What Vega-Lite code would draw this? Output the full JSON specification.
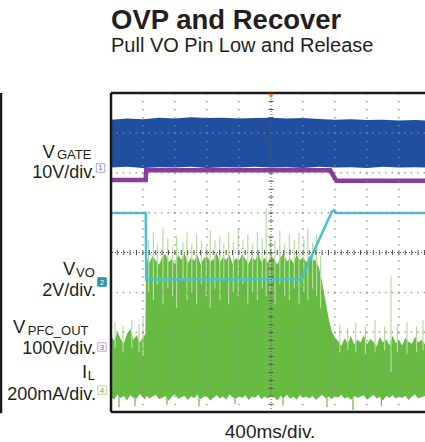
{
  "$schema": "https://vega.github.io/schema/vega-lite/v6.json",
  "width": 314,
  "height": 319,
  "autosize": {"type": "none"},
  "padding": {"left": 111, "top": 93, "right": 0, "bottom": 30},
  "background": "white",
  "config": {"view": {"stroke": null}, "font": "Liberation Sans"},
  "title": {
    "text": "OVP and Recover",
    "subtitle": "Pull VO Pin Low and Release",
    "anchor": "start",
    "frame": "group",
    "fontSize": 27.5,
    "fontWeight": "bold",
    "subtitleFontSize": 20,
    "subtitleFontWeight": "normal",
    "color": "#231f20",
    "subtitleColor": "#231f20",
    "font": "Liberation Sans",
    "subtitleFont": "Liberation Sans",
    "offset": 35,
    "subtitlePadding": 1
  },
  "datasets": {
    "il": [
      {"t":-2000,"lo":0.38,"hi":1.92},{"t":-1960,"lo":0.31,"hi":1.78},{"t":-1920,"lo":0.44,"hi":2.02},{"t":-1880,"lo":0.35,"hi":1.84},
      {"t":-1840,"lo":0.40,"hi":1.72},{"t":-1800,"lo":0.29,"hi":1.96},{"t":-1760,"lo":0.42,"hi":2.08},{"t":-1720,"lo":0.36,"hi":1.81},
      {"t":-1680,"lo":0.33,"hi":1.93},{"t":-1640,"lo":0.45,"hi":1.74},{"t":-1600,"lo":0.37,"hi":1.88},{"t":-1570,"lo":0.30,"hi":1.95},
      {"t":-1562,"lo":0.41,"hi":3.86},{"t":-1520,"lo":0.34,"hi":3.74},{"t":-1480,"lo":0.39,"hi":3.92},{"t":-1440,"lo":0.43,"hi":3.80},
      {"t":-1400,"lo":0.32,"hi":3.69},{"t":-1360,"lo":0.36,"hi":3.88},{"t":-1320,"lo":0.40,"hi":3.97},{"t":-1280,"lo":0.28,"hi":3.76},
      {"t":-1240,"lo":0.38,"hi":3.84},{"t":-1200,"lo":0.44,"hi":3.71},{"t":-1160,"lo":0.33,"hi":3.93},{"t":-1120,"lo":0.37,"hi":3.82},
      {"t":-1080,"lo":0.41,"hi":3.99},{"t":-1040,"lo":0.30,"hi":3.73},{"t":-1000,"lo":0.39,"hi":3.87},{"t":-960,"lo":0.35,"hi":3.79},
      {"t":-920,"lo":0.43,"hi":3.95},{"t":-880,"lo":0.32,"hi":3.70},{"t":-840,"lo":0.38,"hi":3.85},{"t":-800,"lo":0.40,"hi":3.91},
      {"t":-760,"lo":0.29,"hi":3.77},{"t":-720,"lo":0.36,"hi":3.83},{"t":-680,"lo":0.42,"hi":4.00},{"t":-640,"lo":0.34,"hi":3.75},
      {"t":-600,"lo":0.39,"hi":3.89},{"t":-560,"lo":0.31,"hi":3.81},{"t":-520,"lo":0.44,"hi":3.94},{"t":-480,"lo":0.37,"hi":3.72},
      {"t":-440,"lo":0.33,"hi":3.86},{"t":-400,"lo":0.40,"hi":3.78},{"t":-360,"lo":0.35,"hi":3.96},{"t":-320,"lo":0.42,"hi":3.84},
      {"t":-280,"lo":0.30,"hi":3.71},{"t":-240,"lo":0.38,"hi":3.90},{"t":-200,"lo":0.36,"hi":3.80},{"t":-160,"lo":0.43,"hi":3.98},
      {"t":-120,"lo":0.32,"hi":3.76},{"t":-80,"lo":0.39,"hi":3.87},{"t":-40,"lo":0.34,"hi":3.74},{"t":0,"lo":0.41,"hi":3.92},
      {"t":40,"lo":0.37,"hi":3.83},{"t":80,"lo":0.29,"hi":3.70},{"t":120,"lo":0.40,"hi":3.89},{"t":160,"lo":0.35,"hi":3.97},
      {"t":200,"lo":0.43,"hi":3.78},{"t":240,"lo":0.33,"hi":3.85},{"t":280,"lo":0.38,"hi":3.73},{"t":320,"lo":0.31,"hi":3.94},
      {"t":360,"lo":0.42,"hi":3.81},{"t":400,"lo":0.36,"hi":3.88},{"t":440,"lo":0.39,"hi":3.76},{"t":480,"lo":0.34,"hi":3.91},
      {"t":520,"lo":0.41,"hi":3.83},{"t":560,"lo":0.30,"hi":3.79},{"t":600,"lo":0.37,"hi":3.62},{"t":640,"lo":0.43,"hi":3.25},
      {"t":680,"lo":0.35,"hi":2.80},{"t":720,"lo":0.39,"hi":2.35},{"t":760,"lo":0.32,"hi":2.02},{"t":800,"lo":0.40,"hi":1.86},
      {"t":840,"lo":0.36,"hi":1.78},{"t":880,"lo":0.44,"hi":1.66},{"t":920,"lo":0.33,"hi":1.85},{"t":960,"lo":0.38,"hi":1.72},
      {"t":1000,"lo":0.30,"hi":1.90},{"t":1040,"lo":0.41,"hi":1.69},{"t":1080,"lo":0.35,"hi":1.81},{"t":1120,"lo":0.39,"hi":1.74},
      {"t":1160,"lo":0.42,"hi":1.93},{"t":1200,"lo":0.31,"hi":1.70},{"t":1240,"lo":0.37,"hi":1.83},{"t":1280,"lo":0.43,"hi":1.77},
      {"t":1320,"lo":0.34,"hi":1.64},{"t":1360,"lo":0.38,"hi":1.88},{"t":1400,"lo":0.29,"hi":1.75},{"t":1440,"lo":0.40,"hi":1.82},
      {"t":1480,"lo":0.36,"hi":1.68},{"t":1520,"lo":0.42,"hi":1.91},{"t":1560,"lo":0.33,"hi":1.73},{"t":1600,"lo":0.39,"hi":1.80},
      {"t":1640,"lo":0.35,"hi":1.67},{"t":1680,"lo":0.41,"hi":1.86},{"t":1720,"lo":0.30,"hi":1.76},{"t":1760,"lo":0.38,"hi":1.71},
      {"t":1800,"lo":0.44,"hi":1.89},{"t":1840,"lo":0.34,"hi":1.74},{"t":1880,"lo":0.37,"hi":1.81},{"t":1925,"lo":0.40,"hi":1.70}
    ],
    "ilspk": [
      {"t":-1950,"a":1.6,"b":2.25},{"t":-1850,"a":1.5,"b":2.15},{"t":-1740,"a":1.6,"b":2.3},{"t":-1650,"a":1.5,"b":2.2},{"t":-1600,"a":1.4,"b":2.35},
      {"t":-1530,"a":3.0,"b":4.3},{"t":-1470,"a":2.8,"b":4.5},{"t":-1420,"a":3.2,"b":4.2},{"t":-1350,"a":2.7,"b":4.6},{"t":-1290,"a":3.1,"b":4.35},
      {"t":-1230,"a":2.9,"b":4.15},{"t":-1180,"a":2.6,"b":4.4},{"t":-1100,"a":3.3,"b":4.25},{"t":-1050,"a":2.8,"b":4.5},{"t":-990,"a":3.0,"b":4.2},
      {"t":-930,"a":2.7,"b":4.45},{"t":-870,"a":3.2,"b":4.3},{"t":-810,"a":2.9,"b":4.15},{"t":-760,"a":2.6,"b":4.55},{"t":-700,"a":3.1,"b":4.3},
      {"t":-640,"a":2.8,"b":4.4},{"t":-590,"a":3.3,"b":4.2},{"t":-530,"a":2.7,"b":4.5},{"t":-470,"a":3.0,"b":4.25},{"t":-410,"a":2.9,"b":4.6},
      {"t":-350,"a":3.2,"b":4.3},{"t":-290,"a":2.7,"b":4.45},{"t":-230,"a":3.0,"b":4.2},{"t":-170,"a":2.8,"b":4.5},{"t":-110,"a":3.1,"b":4.35},
      {"t":-60,"a":2.9,"b":5.1},{"t":-10,"a":3.0,"b":4.4},{"t":50,"a":2.7,"b":4.3},{"t":110,"a":3.2,"b":4.55},{"t":170,"a":2.9,"b":4.2},
      {"t":230,"a":2.8,"b":4.45},{"t":290,"a":3.1,"b":4.3},{"t":350,"a":2.7,"b":4.5},{"t":410,"a":3.0,"b":4.35},{"t":460,"a":2.8,"b":4.6},
      {"t":520,"a":3.1,"b":4.25},{"t":570,"a":2.9,"b":4.45},{"t":620,"a":2.6,"b":3.9},
      {"t":860,"a":1.5,"b":2.2},{"t":960,"a":1.55,"b":2.1},{"t":1060,"a":1.5,"b":2.25},{"t":1180,"a":1.45,"b":2.15},{"t":1300,"a":1.5,"b":2.3},
      {"t":1420,"a":1.55,"b":2.15},{"t":1500,"a":1.0,"b":3.4},{"t":1580,"a":1.5,"b":2.2},{"t":1700,"a":1.45,"b":2.25},{"t":1820,"a":1.5,"b":2.15},{"t":1900,"a":1.55,"b":2.3}
    ],
    "ildip": [
      {"t":-1900,"a":0.12,"b":0.5},{"t":-1700,"a":0.15,"b":0.5},{"t":-1300,"a":0.18,"b":0.5},{"t":-900,"a":0.14,"b":0.5},
      {"t":-450,"a":0.2,"b":0.5},{"t":150,"a":0.16,"b":0.5},{"t":700,"a":0.12,"b":0.5},{"t":1025,"a":0.05,"b":0.5},{"t":1380,"a":0.15,"b":0.5}
    ],
    "gate": [
      {"t":-2000,"lo":6.13,"hi":7.33},{"t":-1800,"lo":6.15,"hi":7.36},{"t":-1600,"lo":6.12,"hi":7.34},{"t":-1400,"lo":6.14,"hi":7.38},
      {"t":-1200,"lo":6.13,"hi":7.36},{"t":-1000,"lo":6.15,"hi":7.39},{"t":-800,"lo":6.12,"hi":7.37},{"t":-600,"lo":6.14,"hi":7.38},
      {"t":-400,"lo":6.13,"hi":7.36},{"t":-200,"lo":6.15,"hi":7.37},{"t":0,"lo":6.13,"hi":7.38},{"t":200,"lo":6.14,"hi":7.36},
      {"t":400,"lo":6.12,"hi":7.37},{"t":600,"lo":6.15,"hi":7.35},{"t":800,"lo":6.13,"hi":7.33},{"t":1000,"lo":6.14,"hi":7.34},
      {"t":1200,"lo":6.12,"hi":7.32},{"t":1400,"lo":6.15,"hi":7.33},{"t":1600,"lo":6.13,"hi":7.31},{"t":1800,"lo":6.14,"hi":7.32},
      {"t":1925,"lo":6.13,"hi":7.31}
    ],
    "traces": [
      {"ch":"pfc","t":-2000,"v":5.82},{"ch":"pfc","t":-1566,"v":5.82},{"ch":"pfc","t":-1560,"v":6.06},{"ch":"pfc","t":740,"v":6.06},
      {"ch":"pfc","t":815,"v":5.8},{"ch":"pfc","t":1925,"v":5.8},
      {"ch":"vo","t":-2000,"v":4.99},{"ch":"vo","t":-1566,"v":4.99},{"ch":"vo","t":-1560,"v":3.32},{"ch":"vo","t":375,"v":3.32},
      {"ch":"vo","t":762,"v":5.03},{"ch":"vo","t":790,"v":5.06},{"ch":"vo","t":820,"v":4.99},{"ch":"vo","t":1925,"v":4.99}
    ],
    "gridx": [{"t":-1600},{"t":-1200},{"t":-800},{"t":-400},{"t":400},{"t":800},{"t":1200},{"t":1600}],
    "gridy": [{"v":1},{"v":2},{"v":3},{"v":5},{"v":6},{"v":7}],
    "markers": [
      {"ch":"1","t":-2131,"v":6.12},{"ch":"2","t":-2112,"v":3.26},{"ch":"3","t":-2112,"v":1.63},{"ch":"4","t":-2112,"v":0.55}
    ],
    "labels": [
      {"txt":"V","t":-2856,"v":6.37,"k":"main"},{"txt":"GATE","t":-2675,"v":6.337,"k":"sub"},{"txt":"10V/div.","t":-2188,"v":5.856,"k":"div"},
      {"txt":"V","t":-2600,"v":3.44,"k":"main"},{"txt":"VO","t":-2438,"v":3.398,"k":"sub"},{"txt":"2V/div.","t":-2188,"v":2.914,"k":"div"},
      {"txt":"V","t":-3225,"v":1.97,"k":"main"},{"txt":"PFC_OUT","t":-3040,"v":1.936,"k":"sub"},{"txt":"100V/div.","t":-2188,"v":1.455,"k":"div"},
      {"txt":"I","t":-2362,"v":0.85,"k":"main"},{"txt":"L","t":-2290,"v":0.79,"k":"sub"},{"txt":"200mA/div.","t":-2188,"v":0.306,"k":"div"},
      {"txt":"400ms/div.","t":-12,"v":-0.64,"k":"time"}
    ]
  },
  "layer": [
    {
      "data": {"name": "il"},
      "mark": {"type": "area", "color": "#67bb43"},
      "encoding": {
        "x": {"field": "t", "type": "quantitative", "scale": {"domain": [-2000, 1925], "nice": false, "zero": false}, "axis": null},
        "y": {"field": "hi", "type": "quantitative", "scale": {"domain": [0, 8], "nice": false, "zero": false}, "axis": null},
        "y2": {"field": "lo"}
      }
    },
    {
      "data": {"name": "ilspk"},
      "mark": {"type": "rule", "color": "#b3dd9c", "strokeWidth": 1.2},
      "encoding": {
        "x": {"field": "t", "type": "quantitative", "scale": {"domain": [-2000, 1925], "nice": false, "zero": false}, "axis": null},
        "y": {"field": "a", "type": "quantitative", "scale": {"domain": [0, 8], "nice": false, "zero": false}, "axis": null},
        "y2": {"field": "b"}
      }
    },
    {
      "data": {"name": "ildip"},
      "mark": {"type": "rule", "color": "#67bb43", "strokeWidth": 1.2},
      "encoding": {
        "x": {"field": "t", "type": "quantitative", "scale": {"domain": [-2000, 1925], "nice": false, "zero": false}, "axis": null},
        "y": {"field": "a", "type": "quantitative", "scale": {"domain": [0, 8], "nice": false, "zero": false}, "axis": null},
        "y2": {"field": "b"}
      }
    },
    {
      "data": {"name": "traces"},
      "transform": [{"filter": "datum.ch === 'pfc'"}],
      "mark": {"type": "line", "color": "#8b3b9b", "strokeWidth": 4.5},
      "encoding": {
        "x": {"field": "t", "type": "quantitative", "scale": {"domain": [-2000, 1925], "nice": false, "zero": false}, "axis": null},
        "y": {"field": "v", "type": "quantitative", "scale": {"domain": [0, 8], "nice": false, "zero": false}, "axis": null}
      }
    },
    {
      "data": {"name": "gate"},
      "mark": {"type": "area", "color": "#1f4f9e"},
      "encoding": {
        "x": {"field": "t", "type": "quantitative", "scale": {"domain": [-2000, 1925], "nice": false, "zero": false}, "axis": null},
        "y": {"field": "hi", "type": "quantitative", "scale": {"domain": [0, 8], "nice": false, "zero": false}, "axis": null},
        "y2": {"field": "lo"}
      }
    },
    {
      "data": {"name": "traces"},
      "transform": [{"filter": "datum.ch === 'vo'"}],
      "mark": {"type": "line", "color": "#4cc0d3", "strokeWidth": 2.5},
      "encoding": {
        "x": {"field": "t", "type": "quantitative", "scale": {"domain": [-2000, 1925], "nice": false, "zero": false}, "axis": null},
        "y": {"field": "v", "type": "quantitative", "scale": {"domain": [0, 8], "nice": false, "zero": false}, "axis": null}
      }
    },
    {
      "data": {"name": "gridx"},
      "mark": {"type": "rule", "color": "#8a8a8a", "opacity": 0.8, "strokeWidth": 1.5, "strokeDash": [1.5, 6.47]},
      "encoding": {
        "x": {"field": "t", "type": "quantitative", "scale": {"domain": [-2000, 1925], "nice": false, "zero": false}, "axis": null}
      }
    },
    {
      "data": {"name": "gridy"},
      "mark": {"type": "rule", "color": "#8a8a8a", "opacity": 0.8, "strokeWidth": 1.5, "strokeDash": [1.5, 4.9]},
      "encoding": {
        "y": {"field": "v", "type": "quantitative", "scale": {"domain": [0, 8], "nice": false, "zero": false}, "axis": null}
      }
    },
    {
      "data": {"values": [{}]},
      "mark": {"type": "rule", "color": "#555555", "strokeWidth": 1, "strokeDash": [1, 2]},
      "encoding": {"x": {"datum": 0, "type": "quantitative", "scale": {"domain": [-2000, 1925], "nice": false, "zero": false}, "axis": null}}
    },
    {
      "data": {"values": [{}]},
      "mark": {"type": "rule", "color": "#555555", "strokeWidth": 5, "strokeDash": [1, 6.97]},
      "encoding": {"x": {"datum": 0, "type": "quantitative", "scale": {"domain": [-2000, 1925], "nice": false, "zero": false}, "axis": null}}
    },
    {
      "data": {"values": [{}]},
      "mark": {"type": "rule", "color": "#555555", "strokeWidth": 1, "strokeDash": [1, 2]},
      "encoding": {"y": {"datum": 4, "type": "quantitative", "scale": {"domain": [0, 8], "nice": false, "zero": false}, "axis": null}}
    },
    {
      "data": {"values": [{}]},
      "mark": {"type": "rule", "color": "#555555", "strokeWidth": 5, "strokeDash": [1, 5.4]},
      "encoding": {"y": {"datum": 4, "type": "quantitative", "scale": {"domain": [0, 8], "nice": false, "zero": false}, "axis": null}}
    },
    {
      "data": {"values": [{}]},
      "mark": {"type": "rule", "color": "#1a1a1a", "strokeWidth": 2.5},
      "encoding": {"y": {"datum": 8, "type": "quantitative", "scale": {"domain": [0, 8], "nice": false, "zero": false}, "axis": null}}
    },
    {
      "data": {"values": [{}]},
      "mark": {"type": "rule", "color": "#1a1a1a", "strokeWidth": 2.5},
      "encoding": {"y": {"datum": 0, "type": "quantitative", "scale": {"domain": [0, 8], "nice": false, "zero": false}, "axis": null}}
    },
    {
      "data": {"values": [{}]},
      "mark": {"type": "rule", "color": "#1a1a1a", "strokeWidth": 2.5},
      "encoding": {"x": {"datum": -2000, "type": "quantitative", "scale": {"domain": [-2000, 1925], "nice": false, "zero": false}, "axis": null}}
    },
    {
      "data": {"values": [{}]},
      "mark": {"type": "rule", "color": "#1a1a1a", "strokeWidth": 2.5},
      "encoding": {
        "x": {"datum": -3375, "type": "quantitative", "scale": {"domain": [-2000, 1925], "nice": false, "zero": false}, "axis": null},
        "y": {"datum": 8, "type": "quantitative", "scale": {"domain": [0, 8], "nice": false, "zero": false}, "axis": null},
        "y2": {"datum": -0.03}
      }
    },
    {
      "data": {"values": [{}]},
      "mark": {"type": "point", "shape": "triangle-down", "filled": true, "color": "#f07828", "size": 30, "opacity": 1, "yOffset": 3},
      "encoding": {
        "x": {"datum": 0, "type": "quantitative", "scale": {"domain": [-2000, 1925], "nice": false, "zero": false}, "axis": null},
        "y": {"datum": 8, "type": "quantitative", "scale": {"domain": [0, 8], "nice": false, "zero": false}, "axis": null}
      }
    },
    {
      "data": {"name": "markers"},
      "mark": {"type": "point", "shape": "square", "size": 72, "strokeWidth": 1, "opacity": 1},
      "encoding": {
        "x": {"field": "t", "type": "quantitative", "scale": {"domain": [-2000, 1925], "nice": false, "zero": false}, "axis": null},
        "y": {"field": "v", "type": "quantitative", "scale": {"domain": [0, 8], "nice": false, "zero": false}, "axis": null},
        "fill": {"field": "ch", "type": "nominal", "scale": {"domain": ["1", "2", "3", "4"], "range": ["#ffffff", "#2a96aa", "#ffffff", "#ffffff"]}, "legend": null},
        "stroke": {"field": "ch", "type": "nominal", "scale": {"domain": ["1", "2", "3", "4"], "range": ["#9aa6d6", "#2a96aa", "#c9a3d9", "#a8dca8"]}, "legend": null}
      }
    },
    {
      "data": {"name": "markers"},
      "mark": {"type": "text", "fontSize": 8, "baseline": "middle", "align": "center", "dy": 0.5},
      "encoding": {
        "x": {"field": "t", "type": "quantitative", "scale": {"domain": [-2000, 1925], "nice": false, "zero": false}, "axis": null},
        "y": {"field": "v", "type": "quantitative", "scale": {"domain": [0, 8], "nice": false, "zero": false}, "axis": null},
        "text": {"field": "ch"},
        "color": {"field": "ch", "type": "nominal", "scale": {"domain": ["1", "2", "3", "4"], "range": ["#5a6bb0", "#ffffff", "#9a5cb0", "#5fae5f"]}, "legend": null}
      }
    },
    {
      "data": {"name": "labels"},
      "transform": [{"filter": "datum.k === 'main' || datum.k === 'sub'"}],
      "mark": {"type": "text", "align": "left", "baseline": "alphabetic", "color": "#231f20"},
      "encoding": {
        "x": {"field": "t", "type": "quantitative", "scale": {"domain": [-2000, 1925], "nice": false, "zero": false}, "axis": null},
        "y": {"field": "v", "type": "quantitative", "scale": {"domain": [0, 8], "nice": false, "zero": false}, "axis": null},
        "text": {"field": "txt"},
        "size": {"field": "k", "type": "nominal", "scale": {"domain": ["main", "sub"], "range": [18.5, 13]}, "legend": null}
      }
    },
    {
      "data": {"name": "labels"},
      "transform": [{"filter": "datum.k === 'div'"}],
      "mark": {"type": "text", "align": "right", "baseline": "alphabetic", "color": "#231f20", "fontSize": 18},
      "encoding": {
        "x": {"field": "t", "type": "quantitative", "scale": {"domain": [-2000, 1925], "nice": false, "zero": false}, "axis": null},
        "y": {"field": "v", "type": "quantitative", "scale": {"domain": [0, 8], "nice": false, "zero": false}, "axis": null},
        "text": {"field": "txt"}
      }
    },
    {
      "data": {"name": "labels"},
      "transform": [{"filter": "datum.k === 'time'"}],
      "mark": {"type": "text", "align": "center", "baseline": "alphabetic", "color": "#231f20", "fontSize": 19},
      "encoding": {
        "x": {"field": "t", "type": "quantitative", "scale": {"domain": [-2000, 1925], "nice": false, "zero": false}, "axis": null},
        "y": {"field": "v", "type": "quantitative", "scale": {"domain": [0, 8], "nice": false, "zero": false}, "axis": null},
        "text": {"field": "txt"}
      }
    }
  ]
}
